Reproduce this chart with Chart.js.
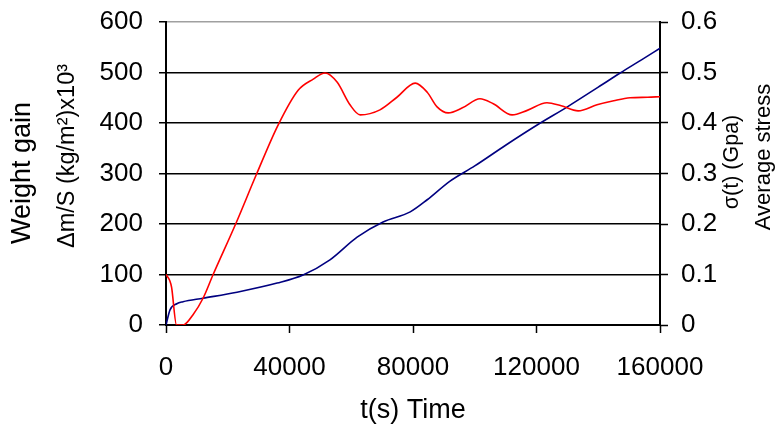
<!DOCTYPE html>
<html>
<head>
<meta charset="utf-8">
<script src="https://cdn.jsdelivr.net/npm/chart.js@4.4.1/dist/chart.umd.min.js"></script>
<style>
  html, body { margin: 0; padding: 0; background: #fff; }
  #wrap { width: 781px; height: 430px; position: relative; }
</style>
</head>
<body>
<div id="wrap"><canvas id="chart"></canvas></div>
<script>
// weight gain (left axis)
const gainTimes = [0, 1200, 1800, 3400, 5500, 8700, 12000, 15200, 22700, 29200, 36300, 42800, 47700, 51500,
  55400, 59600, 62900, 69300, 74800, 80700, 84600, 87800, 91400, 96000, 101700, 106000, 112100, 117000,
  123400, 128000, 133500, 139600, 145000, 150300, 156000, 160000];
const gainValues = [100, 88, 75, 0, 0, 20, 53, 99, 202, 297, 396, 465, 487, 499,
  481, 436, 416, 426, 451, 479, 461, 432, 420, 430, 448, 438, 416, 425,
  440, 434, 424, 436, 444, 450, 451, 452];

// average stress (right axis)
const stressTimes = [0, 1300, 3500, 5500, 12000, 23000, 36000, 44400, 53100, 61900, 70300, 79100, 84600,
  92000, 100000, 110000, 120200, 130000, 140000, 147100, 154000, 160000];
const stressValues = [0, 0.03, 0.042, 0.046, 0.053, 0.065, 0.083, 0.099, 0.129, 0.174, 0.204, 0.224, 0.248,
  0.285, 0.315, 0.356, 0.396, 0.432, 0.471, 0.499, 0.525, 0.548];

const xTicks = [0, 40000, 80000, 120000, 160000];
const leftTicks = [0, 100, 200, 300, 400, 500, 600];
const rightTicks = [0, 0.1, 0.2, 0.3, 0.4, 0.5, 0.6];

const gainPoints = gainTimes.map((t, i) => ({ x: t, y: gainValues[i] }));
const stressPoints = stressTimes.map((t, i) => ({ x: t, y: stressValues[i] }));

const FAMILY = "'Liberation Sans', Arial, sans-serif";
const tickFont = { family: FAMILY, size: 26 };

function upText(ctx, text, x, y, size) {
  ctx.save();
  ctx.fillStyle = "#000";
  ctx.textAlign = "center";
  ctx.textBaseline = "middle";
  ctx.font = size + "px " + FAMILY;
  ctx.translate(x, y);
  ctx.rotate(-Math.PI / 2);
  ctx.fillText(text, 0, 0);
  ctx.restore();
}

// axis titles for both y axes, reading bottom to top
const axisTitles = {
  id: "axisTitles",
  afterDraw(chart) {
    const ctx = chart.ctx;
    upText(ctx, "Weight gain", 23, 173, 27);
    upText(ctx, "\u0394m/S (kg/m\u00b2)x10\u00b3", 68, 156, 23.5);
    upText(ctx, "\u03c3(t) (Gpa)", 732, 162, 21.5);
    upText(ctx, "Average stress", 764, 157, 22);
  }
};

const noPad = (s) => { s.paddingTop = 0; s.paddingBottom = 0; };

new Chart(document.getElementById("chart"), {
  type: "line",
  data: {
    datasets: [
      {
        label: "Weight gain",
        data: gainPoints,
        yAxisID: "y",
        borderColor: "#ff0000",
        borderWidth: 1.6,
        pointRadius: 0,
        tension: 0.4,
        cubicInterpolationMode: "monotone"
      },
      {
        label: "Average stress",
        data: stressPoints,
        yAxisID: "y2",
        borderColor: "#000080",
        borderWidth: 1.6,
        pointRadius: 0,
        tension: 0.4,
        cubicInterpolationMode: "monotone"
      }
    ]
  },
  options: {
    responsive: true,
    maintainAspectRatio: false,
    animation: false,
    layout: { padding: { top: 22, left: 0, right: 0, bottom: 0 } },
    plugins: { legend: { display: false }, tooltip: { enabled: false } },
    scales: {
      x: {
        type: "linear",
        min: 0,
        max: 160000,
        afterBuildTicks: (s) => { s.ticks = xTicks.map(v => ({ value: v })); },
        afterFit: (s) => { s.height = 105; },
        ticks: { font: tickFont, color: "#000", padding: 19, maxRotation: 0, callback: v => String(v) },
        grid: { drawOnChartArea: false, color: "#000", tickLength: 8, tickWidth: 1.5 },
        border: { color: "#000", width: 2 },
        title: {
          display: true,
          text: "t(s) Time",
          color: "#000",
          font: { family: FAMILY, size: 27 },
          padding: { top: 0, bottom: 3 }
        }
      },
      y: {
        position: "left",
        min: 0,
        max: 600,
        afterBuildTicks: (s) => { s.ticks = leftTicks.map(v => ({ value: v })); },
        afterFit: (s) => { s.width = 166; noPad(s); },
        ticks: { font: tickFont, color: "#000", padding: 16 },
        grid: {
          color: (c) => (c.tick && c.tick.value === 600 ? "#a0a0a0" : "#000"),
          lineWidth: 1.5,
          tickColor: "#000",
          tickLength: 7
        },
        border: { color: "#000", width: 2 }
      },
      y2: {
        position: "right",
        min: 0,
        max: 0.6,
        afterBuildTicks: (s) => { s.ticks = rightTicks.map(v => ({ value: v })); },
        afterFit: (s) => { s.width = 121; noPad(s); },
        ticks: { font: tickFont, color: "#000", padding: 13, callback: v => String(v) },
        grid: { drawOnChartArea: false, color: "#000", tickLength: 8, tickWidth: 1.5 },
        border: { color: "#000", width: 2 }
      }
    }
  },
  plugins: [axisTitles]
});
</script>
</body>
</html>
